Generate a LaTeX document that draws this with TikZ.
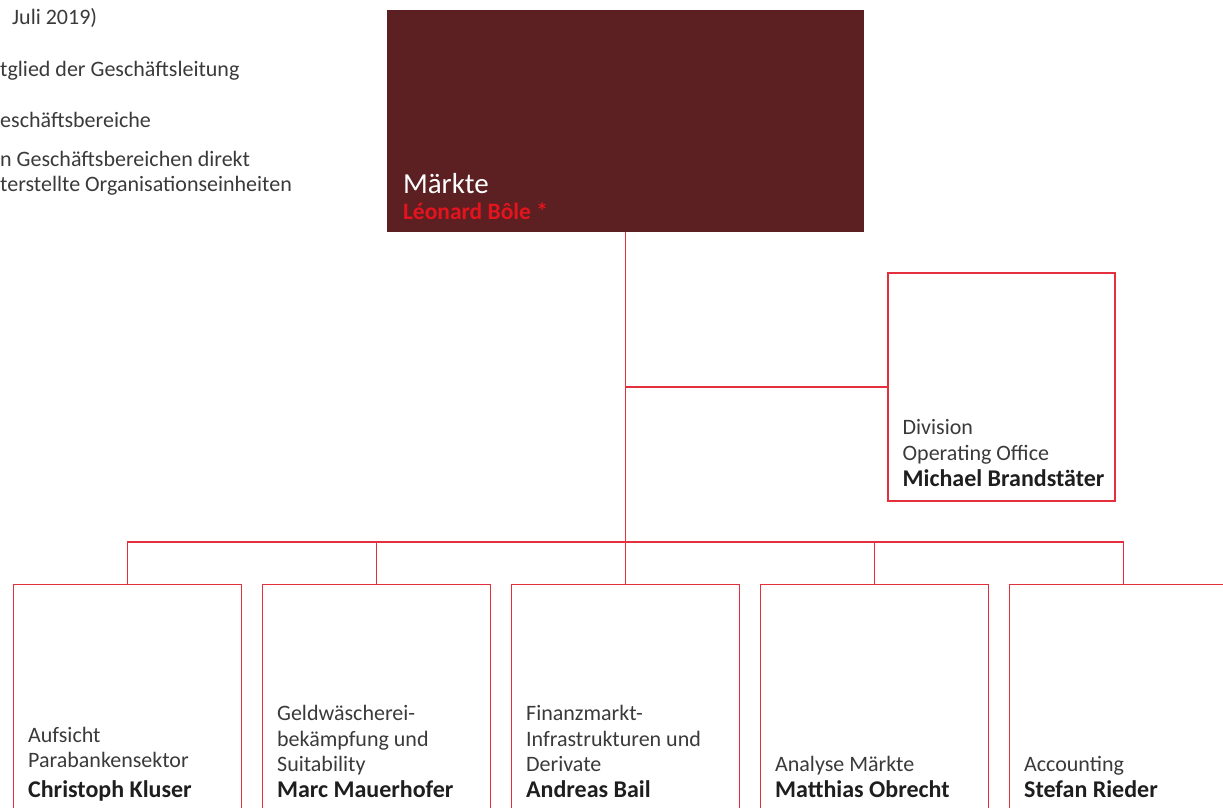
\documentclass[tikz,border=0pt]{standalone}
\usepackage{fontspec}
\setmainfont{Carlito}

\definecolor{orgred}{HTML}{E4303C}
\definecolor{bolered}{HTML}{E3141E}
\definecolor{maroon}{HTML}{5C1F22}
\definecolor{textgrey}{HTML}{3A3A3A}
\definecolor{namegrey}{HTML}{1E1E1E}

\newcommand{\unitfont}{\fontsize{22}{25.5}\selectfont}
\newcommand{\namefont}{\fontsize{24}{25.5}\selectfont\bfseries\color{namegrey}}
\newcommand{\titlefont}{\fontsize{29}{26}\selectfont}
\newcommand{\bolefont}{\fontsize{23.5}{26}\selectfont\bfseries\color{bolered}}

\begin{document}
\begin{tikzpicture}[x=1pt,y=-1pt,
    orgline/.style={draw=orgred, line width=1.1pt},
    unitbox/.style={draw=orgred, line width=1.1pt, minimum width=228pt, minimum height=260pt, inner sep=0pt, anchor=north},
    unittext/.style={anchor=south west, align=left, inner sep=0pt, text depth=0pt, font=\unitfont, text=textgrey},
    legendtext/.style={anchor=base west, inner sep=0pt, font=\unitfont, text=textgrey}]
    \useasboundingbox (0,0) rectangle (1223,807);
    \clip (0,0) rectangle (1223,807);

    % Legende
    \node[legendtext] (legstand) at (12,24) {Juli 2019)};
    \node[legendtext] (legmitglied) at (0,76) {tglied der Geschäftsleitung};
    \node[legendtext] (legbereich) at (0,127) {eschäftsbereiche};
    \node[legendtext] (legeinheit) at (0,166.5) {n Geschäftsbereichen direkt};
    \node[legendtext] (legeinheitb) at (0,191.5) {terstellte Organisationseinheiten};

    % Geschäftsbereich
    \node[fill=maroon, minimum width=477pt, minimum height=222pt, inner sep=0pt] (maerkte) at (625.5,121) {};
    \node[unittext, font=\titlefont, text=white] (maerktetext) at ([shift={(16,210)}]maerkte.north west) {Märkte\\{\bolefont Léonard Bôle *}};

    % Division Operating Office
    \node[draw=orgred, line width=1.1pt, minimum width=227pt, minimum height=228pt, inner sep=0pt] (division) at (1001.5,387) {};
    \node[unittext] (divisiontext) at ([shift={(15,214.5)}]division.north west) {Division\\Operating Office\\[1pt]{\namefont Michael Brandstäter}};

    % Organisationseinheiten
    \foreach \name/\cx in {aufsicht/127.5, geld/376.5, finanz/625.5, analyse/874.5, accounting/1123.5}
        \node[unitbox] (\name) at (\cx,584) {};

    \node[unittext] (aufsichttext) at ([shift={(15,213.5)}]aufsicht.north west) {Aufsicht\\Parabankensektor\\[4pt]{\namefont Christoph Kluser}};
    \node[unittext] (geldtext) at ([shift={(15,213.5)}]geld.north west) {Geldwäscherei-\\bekämpfung und\\Suitability\\{\namefont Marc Mauerhofer}};
    \node[unittext] (finanztext) at ([shift={(15,213.5)}]finanz.north west) {Finanzmarkt-\\Infrastrukturen und\\Derivate\\{\namefont Andreas Bail}};
    \node[unittext] (analysetext) at ([shift={(15,213.5)}]analyse.north west) {Analyse Märkte\\{\namefont Matthias Obrecht}};
    \node[unittext] (accountingtext) at ([shift={(15,213.5)}]accounting.north west) {Accounting\\{\namefont Stefan Rieder}};

    % Linien
    \draw[orgline] (maerkte.south) -- (finanz.north);
    \draw[orgline] (maerkte.south |- division.west) -- (division.west);
    \draw[orgline] (aufsicht.north) -- ++(0,-42) -| (accounting.north);
    \foreach \name in {geld, analyse}
        \draw[orgline] (\name.north) -- ++(0,-42);
\end{tikzpicture}
\end{document}
